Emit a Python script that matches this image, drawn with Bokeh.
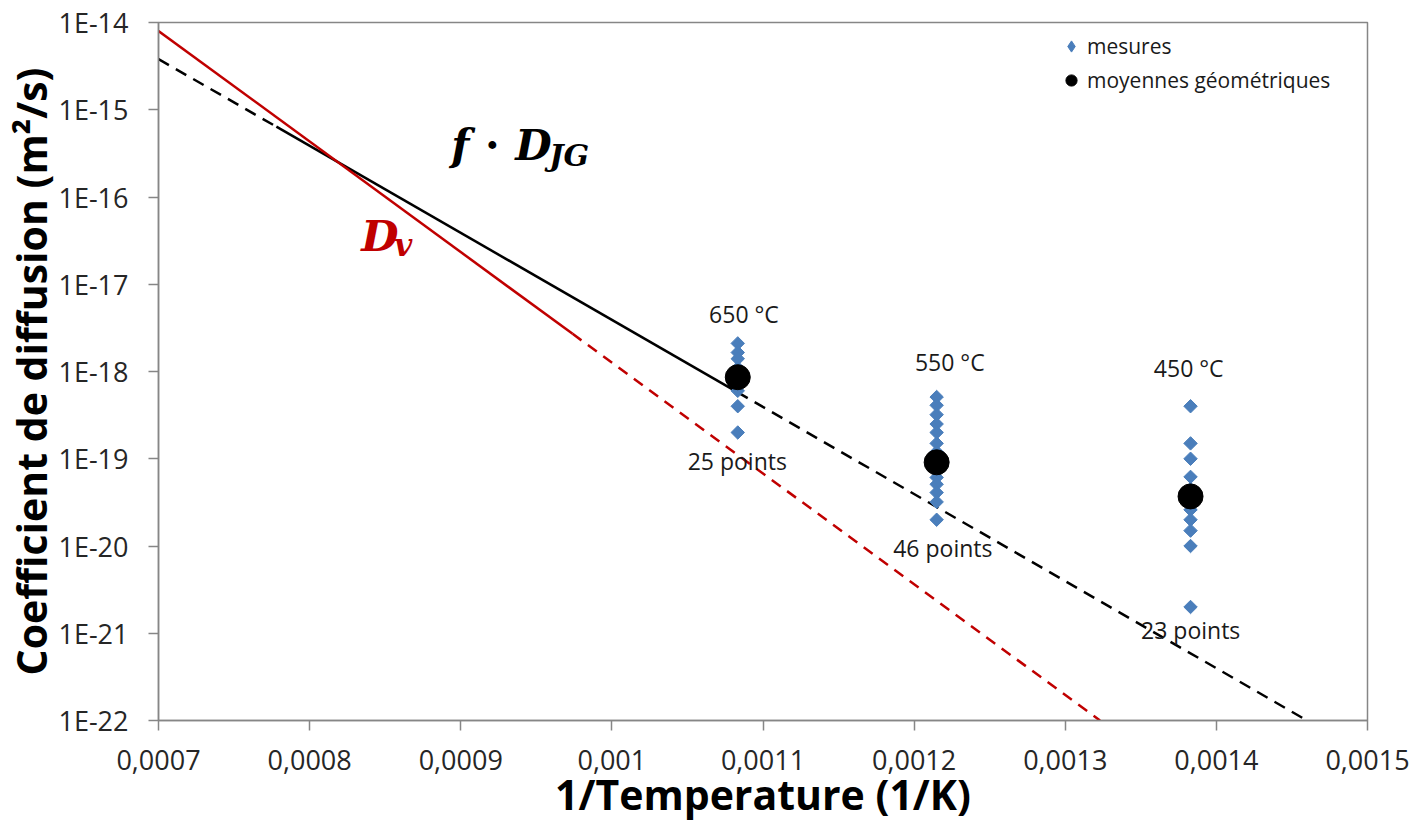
import numpy as np
from bokeh.plotting import figure
from bokeh.models import FixedTicker, Legend, LegendItem, ColumnDataSource
from bokeh.core.properties import value
from bokeh.embed import file_html
from bokeh.resources import INLINE

# ---------------- data ----------------
inv_T = [0.0010833, 0.0012149, 0.0013829]          # 1/T for 650, 550, 450 °C
temp_labels = ["650 °C", "550 °C", "450 °C"]
temp_label_x = [0.0010874, 0.0012236, 0.0013817]
temp_label_y = [4.6e-18, 1.3e-18, 1.11e-18]
count_labels = ["25 points", "46 points", "23 points"]
count_label_x = [0.001083, 0.001219, 0.001383]
count_label_y = [9.5e-20, 9.6e-21, 1.08e-21]

mesures_650 = [2.1e-18, 1.65e-18, 1.4e-18, 1.1e-18, 9.0e-19, 7.5e-19, 6.0e-19, 4.0e-19, 2.0e-19]
mesures_550 = [5.1e-19, 4.1e-19, 3.2e-19, 2.5e-19, 2.0e-19, 1.5e-19, 1.2e-19, 1.0e-19,
               8.0e-20, 6.1e-20, 5.1e-20, 4.1e-20, 3.2e-20, 2.0e-20]
mesures_450 = [4.0e-19, 1.5e-19, 1.0e-19, 6.2e-20, 4.5e-20, 3.0e-20, 2.6e-20, 2.0e-20,
               1.5e-20, 1.0e-20, 2.0e-21]
moyennes = [8.6e-19, 9.1e-20, 3.7e-20]

# Dv (red) line
dv_solid_x = [0.0007, 0.000974]
dv_solid_y = [8.0e-15, 2.7e-18]
dv_dash_x = [0.000974, 0.001323]
dv_dash_y = [2.7e-18, 1.0e-22]
# f.DJG (black) line
djg_dash1_x = [0.0007, 0.000778]
djg_dash1_y = [3.8e-15, 6.4e-16]
djg_solid_x = [0.000778, 0.001083]
djg_solid_y = [6.4e-16, 5.8e-19]
djg_dash2_x = [0.001083, 0.00146]
djg_dash2_y = [5.8e-19, 1.0e-22]

x_ticks = [0.0007, 0.0008, 0.0009, 0.001, 0.0011, 0.0012, 0.0013, 0.0014, 0.0015]
x_tick_labels = ["0,0007", "0,0008", "0,0009", "0,001", "0,0011", "0,0012", "0,0013", "0,0014", "0,0015"]
y_ticks = [1e-22, 1e-21, 1e-20, 1e-19, 1e-18, 1e-17, 1e-16, 1e-15, 1e-14]
y_tick_labels = ["1E-22", "1E-21", "1E-20", "1E-19", "1E-18", "1E-17", "1E-16", "1E-15", "1E-14"]

# annotation anchors
fdjg_anchor = (0.0008937, 3.89e-16)
dv_anchor = (0.0008342, 3.53e-17)

# ---------------- figure ----------------
FONT = "Open Sans"
GRAY = "#868686"
RED = "#C00000"
BLUE = "#4A7EBB"

p = figure(width=1415, height=827, output_backend="svg", toolbar_location=None,
           x_range=(0.0007, 0.0015), y_range=(1e-22, 1e-14), y_axis_type="log",
           min_border_left=157, min_border_right=48, min_border_top=22, min_border_bottom=107)
p.xgrid.visible = False
p.ygrid.visible = False
p.outline_line_color = GRAY
p.outline_line_width = 1.5
p.background_fill_color = "white"
p.border_fill_color = "white"

for ax in (p.xaxis[0], p.yaxis[0]):
    ax.axis_line_color = GRAY
    ax.axis_line_width = 1.5
    ax.major_tick_line_color = GRAY
    ax.major_tick_line_width = 1.5
    ax.major_tick_out = 10
    ax.major_tick_in = 0
    ax.minor_tick_line_color = None
    ax.major_label_text_font = FONT
    ax.major_label_text_font_size = "27px"
    ax.major_label_text_color = "#262626"
    ax.axis_label_text_font = FONT
    ax.axis_label_text_font_style = "bold"
    ax.axis_label_text_color = "black"

p.xaxis.ticker = FixedTicker(ticks=x_ticks)
p.xaxis.major_label_overrides = dict(zip(x_ticks, x_tick_labels))
p.xaxis.axis_label = "1/Temperature (1/K)"
p.xaxis.axis_label_text_font_size = "41px"
p.xaxis.major_label_standoff = 19
p.xaxis.axis_label_standoff = -7

p.yaxis.ticker = FixedTicker(ticks=y_ticks)
p.yaxis.major_label_overrides = dict(zip(y_ticks, y_tick_labels))
p.yaxis.axis_label = "Coefficient de diffusion (m²/s)"
p.yaxis.axis_label_text_font_size = "41px"
p.yaxis.major_label_standoff = 20
p.yaxis.axis_label_standoff = -4

# lines
p.line(djg_dash1_x, djg_dash1_y, line_color="black", line_width=2.5, line_dash="12 8")
p.line(djg_solid_x, djg_solid_y, line_color="black", line_width=2.5)
p.line(djg_dash2_x, djg_dash2_y, line_color="black", line_width=2.5, line_dash="12 8")
p.line(dv_solid_x, dv_solid_y, line_color=RED, line_width=2.5)
p.line(dv_dash_x, dv_dash_y, line_color=RED, line_width=2.5, line_dash="11 8")

# measurements
mx = [inv_T[0]] * len(mesures_650) + [inv_T[1]] * len(mesures_550) + [inv_T[2]] * len(mesures_450)
my = mesures_650 + mesures_550 + mesures_450
src_m = ColumnDataSource(dict(x=mx, y=my))
# diamond drawn underneath (fully covered) - used for the legend swatch
r_mes_leg = p.scatter("x", "y", source=src_m, marker="diamond", size=11,
                      fill_color=BLUE, line_color=BLUE)
r_mes = p.scatter("x", "y", source=src_m, marker="square", angle=np.pi / 4, size=9.5,
                  fill_color=BLUE, line_color=BLUE)
src_g = ColumnDataSource(dict(x=inv_T, y=moyennes))
r_moy = p.scatter("x", "y", source=src_g, marker="circle", size=25,
                  fill_color="black", line_color="black")

# text labels
p.text(x=temp_label_x, y=temp_label_y, text=temp_labels, text_font=value(FONT),
       text_font_size="23px", text_align="center", text_baseline="middle", text_color="#1a1a1a")
p.text(x=count_label_x, y=count_label_y, text=count_labels, text_font=value(FONT),
       text_font_size="23px", text_align="center", text_baseline="middle", text_color="#1a1a1a")

# math-like annotations
SERIF = "DejaVu Serif"
fx, fy = fdjg_anchor
p.text(x=[fx], y=[fy], text=["f"], text_font=value(SERIF), text_font_style="bold italic",
       text_font_size="42px", text_baseline="alphabetic", text_color="black")
p.text(x=[fx], y=[fy], text=["·"], x_offset=41, y_offset=0, text_font=value(SERIF),
       text_font_style="bold", text_font_size="42px", text_align="center",
       text_baseline="alphabetic", text_color="black")
p.text(x=[fx], y=[fy], text=["D"], x_offset=64, text_font=value(SERIF), text_font_style="bold italic",
       text_font_size="42px", text_baseline="alphabetic", text_color="black")
p.text(x=[fx], y=[fy], text=["JG"], x_offset=98, y_offset=10, text_font=value(SERIF),
       text_font_style="bold italic", text_font_size="30px", text_baseline="alphabetic",
       text_color="black")
dx, dy = dv_anchor
p.text(x=[dx], y=[dy], text=["D"], text_font=value(SERIF), text_font_style="bold italic",
       text_font_size="43px", text_baseline="alphabetic", text_color=RED)
p.text(x=[dx], y=[dy], text=["v"], x_offset=33, y_offset=9, text_font=value(SERIF),
       text_font_style="bold italic", text_font_size="31px", text_baseline="alphabetic",
       text_color=RED)

legend = Legend(items=[LegendItem(label="mesures", renderers=[r_mes_leg]),
                       LegendItem(label="moyennes géométriques", renderers=[r_moy])],
                location="top_right", margin=0, padding=10, spacing=6,
                glyph_width=28, glyph_height=28, label_standoff=2, label_width=270,
                label_text_font=FONT, label_text_font_size="21px", label_text_color="#1a1a1a",
                border_line_alpha=0, background_fill_alpha=0)
p.add_layout(legend)

open("out.html", "w").write(file_html(p, INLINE))
